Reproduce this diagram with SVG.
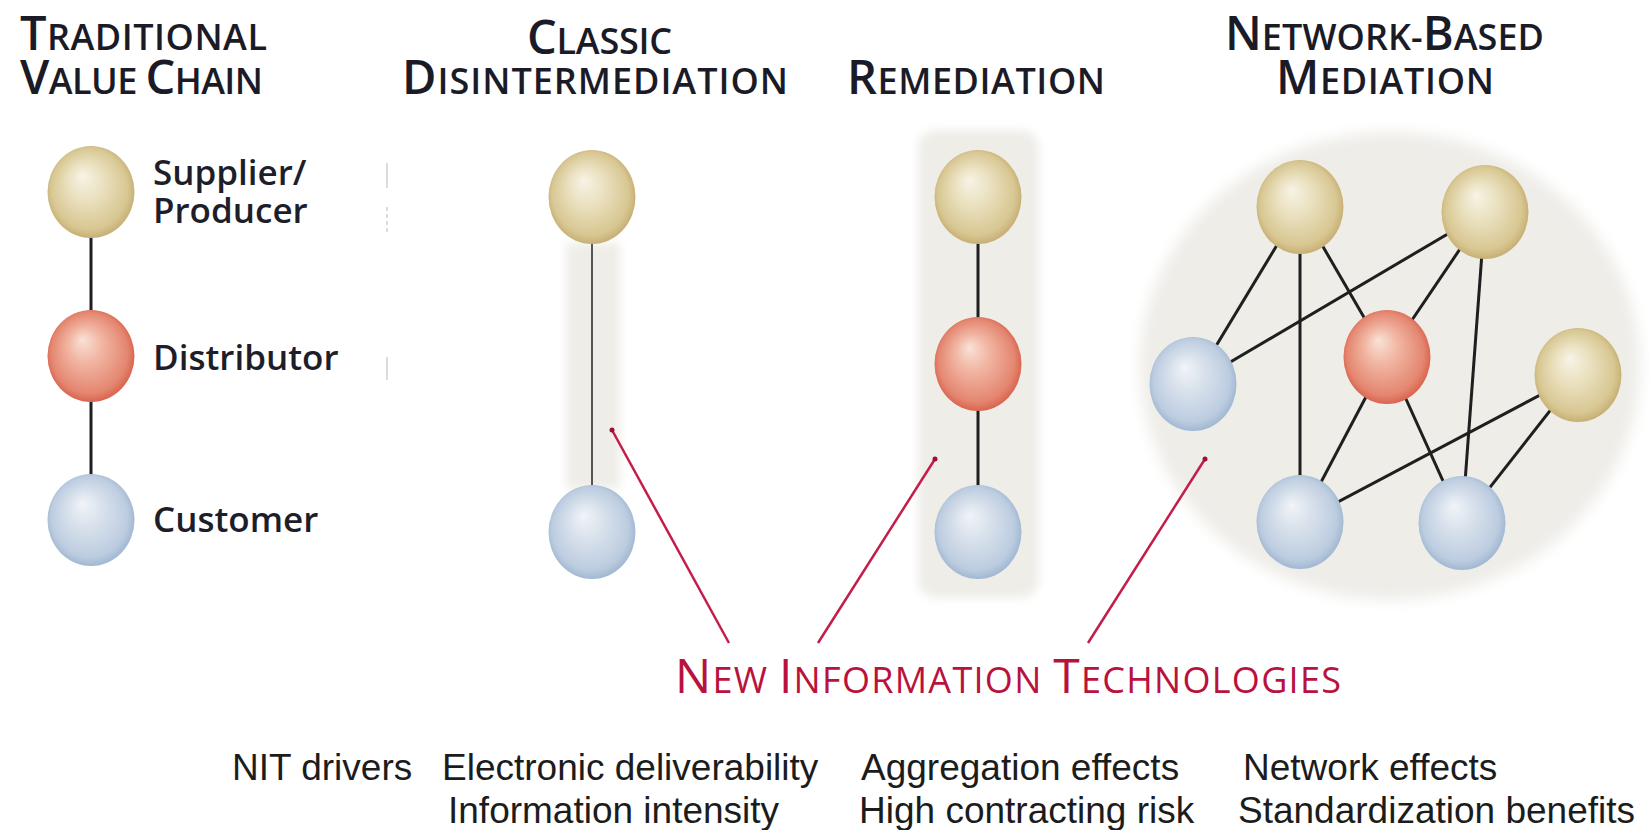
<svg xmlns="http://www.w3.org/2000/svg" width="1650" height="830" viewBox="0 0 1650 830">
  <defs>
    <style>
      .head { font-family: "Open Sans", "Liberation Sans", sans-serif; font-weight: 600; fill: #1b1b27; }
      .big { font-size: 47px; }
      .sc { font-size: 36px; }
      .label { font-family: "Open Sans", "Liberation Sans", sans-serif; font-weight: 600; font-size: 35px; fill: #1e1e2a; }
      .nit { font-family: "Open Sans", "Liberation Sans", sans-serif; font-weight: 400; fill: #b8123d; }
      .nit .big { font-size: 48px; }
      .nit .sc { font-size: 36px; }
      .driver { font-family: "Liberation Sans", Arial, sans-serif; font-size: 37px; fill: #1c1c1c; }
      .link { stroke: #1f1f1f; stroke-width: 3; }
      .link-light { stroke: #555; stroke-width: 2; }
      .pointer { stroke: #c41d4a; stroke-width: 2.5; fill: none; }
      .tip { fill: #9e1030; }
      .halo { fill: #eeede8; }
      .mark { stroke: #dcdcdc; stroke-width: 2; }
    </style>
    <radialGradient id="gYellow" cx="0.5" cy="0.5" r="0.55" fx="0.4" fy="0.32">
      <stop offset="0" stop-color="#f7f3e6"/>
      <stop offset="0.35" stop-color="#ebe2c2"/>
      <stop offset="0.8" stop-color="#d8c792"/>
      <stop offset="1" stop-color="#bea366"/>
    </radialGradient>
    <radialGradient id="gRed" cx="0.5" cy="0.5" r="0.55" fx="0.4" fy="0.32">
      <stop offset="0" stop-color="#f9e2d8"/>
      <stop offset="0.35" stop-color="#f1b6a3"/>
      <stop offset="0.8" stop-color="#e48670"/>
      <stop offset="1" stop-color="#d4533e"/>
    </radialGradient>
    <radialGradient id="gBlue" cx="0.5" cy="0.5" r="0.55" fx="0.4" fy="0.32">
      <stop offset="0" stop-color="#f1f4f8"/>
      <stop offset="0.35" stop-color="#d9e2ec"/>
      <stop offset="0.8" stop-color="#bccce0"/>
      <stop offset="1" stop-color="#93aeca"/>
    </radialGradient>
    <filter id="soft" x="-20%" y="-20%" width="140%" height="140%">
      <feGaussianBlur stdDeviation="7"/>
    </filter>
    <filter id="softer" x="-30%" y="-10%" width="160%" height="120%">
      <feGaussianBlur stdDeviation="5"/>
    </filter>
  </defs>

  <rect width="1650" height="830" fill="#ffffff"/>

  <!-- column headings: capital letters large, the rest as small capitals -->
  <g id="headings">
    <text class="head"><tspan x="20" y="50" textLength="247" lengthAdjust="spacing"><tspan class="big">T</tspan><tspan class="sc">RADITIONAL</tspan></tspan><tspan x="20" y="94" textLength="243" lengthAdjust="spacing"><tspan class="big">V</tspan><tspan class="sc">ALUE </tspan><tspan class="big">C</tspan><tspan class="sc">HAIN</tspan></tspan></text>
    <text class="head"><tspan x="527" y="54" textLength="145" lengthAdjust="spacing"><tspan class="big">C</tspan><tspan class="sc">LASSIC</tspan></tspan><tspan x="402" y="94" textLength="386" lengthAdjust="spacing"><tspan class="big">D</tspan><tspan class="sc">ISINTERMEDIATION</tspan></tspan></text>
    <text class="head" x="847" y="94" textLength="258" lengthAdjust="spacing"><tspan class="big">R</tspan><tspan class="sc">EMEDIATION</tspan></text>
    <text class="head"><tspan x="1225" y="50" textLength="319" lengthAdjust="spacing"><tspan class="big">N</tspan><tspan class="sc">ETWORK-</tspan><tspan class="big">B</tspan><tspan class="sc">ASED</tspan></tspan><tspan x="1276" y="94" textLength="218" lengthAdjust="spacing"><tspan class="big">M</tspan><tspan class="sc">EDIATION</tspan></tspan></text>
  </g>

  <!-- soft background shapes -->
  <g id="backdrops">
    <rect class="halo" x="566" y="243" width="54" height="246" filter="url(#softer)"/>
    <rect class="halo" x="918" y="130" width="121" height="468" rx="18" filter="url(#softer)"/>
    <ellipse class="halo" cx="1390" cy="366" rx="250" ry="234" filter="url(#soft)"/>
  </g>

  <!-- faint margin ticks -->
  <g id="ticks">
    <line class="mark" x1="387" y1="163" x2="387" y2="188"/>
    <line class="mark" x1="387" y1="207" x2="387" y2="233" stroke-dasharray="4 3"/>
    <line class="mark" x1="387" y1="357" x2="387" y2="380"/>
  </g>

  <!-- connectors -->
  <g id="connectors">
    <line class="link" x1="91" y1="192" x2="91" y2="356"/>
    <line class="link" x1="91" y1="356" x2="91" y2="520"/>
    <line class="link-light" x1="592" y1="197" x2="592" y2="532"/>
    <line class="link" x1="978" y1="197" x2="978" y2="364"/>
    <line class="link" x1="978" y1="364" x2="978" y2="532"/>
    <line class="link" x1="1300" y1="207" x2="1193" y2="384"/>
    <line class="link" x1="1300" y1="207" x2="1300" y2="522"/>
    <line class="link" x1="1300" y1="207" x2="1387" y2="357"/>
    <line class="link" x1="1485" y1="212" x2="1193" y2="384"/>
    <line class="link" x1="1485" y1="212" x2="1387" y2="357"/>
    <line class="link" x1="1485" y1="212" x2="1462" y2="523"/>
    <line class="link" x1="1387" y1="357" x2="1300" y2="522"/>
    <line class="link" x1="1387" y1="357" x2="1462" y2="523"/>
    <line class="link" x1="1578" y1="375" x2="1300" y2="522"/>
    <line class="link" x1="1578" y1="375" x2="1462" y2="523"/>
  </g>

  <!-- traditional value chain -->
  <g id="tvc-supplier"><ellipse cx="91" cy="192" rx="43.5" ry="46" fill="url(#gYellow)"/></g>
  <g id="tvc-distributor"><ellipse cx="91" cy="356" rx="43.5" ry="46" fill="url(#gRed)"/></g>
  <g id="tvc-customer"><ellipse cx="91" cy="520" rx="43.5" ry="46" fill="url(#gBlue)"/></g>
  <g id="tvc-labels">
    <text class="label"><tspan x="153" y="185">Supplier/</tspan><tspan x="153" y="223">Producer</tspan></text>
    <text class="label" x="153" y="370">Distributor</text>
    <text class="label" x="153" y="532">Customer</text>
  </g>

  <!-- classic disintermediation -->
  <g id="cd-supplier"><ellipse cx="592" cy="197" rx="43.5" ry="47" fill="url(#gYellow)"/></g>
  <g id="cd-customer"><ellipse cx="592" cy="532" rx="43.5" ry="47" fill="url(#gBlue)"/></g>

  <!-- remediation -->
  <g id="rm-supplier"><ellipse cx="978" cy="197" rx="43.5" ry="47" fill="url(#gYellow)"/></g>
  <g id="rm-distributor"><ellipse cx="978" cy="364" rx="43.5" ry="47" fill="url(#gRed)"/></g>
  <g id="rm-customer"><ellipse cx="978" cy="532" rx="43.5" ry="47" fill="url(#gBlue)"/></g>

  <!-- network-based mediation -->
  <g id="nb-supplier-a"><ellipse cx="1300" cy="207" rx="43.5" ry="47" fill="url(#gYellow)"/></g>
  <g id="nb-supplier-b"><ellipse cx="1485" cy="212" rx="43.5" ry="47" fill="url(#gYellow)"/></g>
  <g id="nb-supplier-c"><ellipse cx="1578" cy="375" rx="43.5" ry="47" fill="url(#gYellow)"/></g>
  <g id="nb-distributor"><ellipse cx="1387" cy="357" rx="43.5" ry="47" fill="url(#gRed)"/></g>
  <g id="nb-customer-a"><ellipse cx="1193" cy="384" rx="43.5" ry="47" fill="url(#gBlue)"/></g>
  <g id="nb-customer-b"><ellipse cx="1300" cy="522" rx="43.5" ry="47" fill="url(#gBlue)"/></g>
  <g id="nb-customer-c"><ellipse cx="1462" cy="523" rx="43.5" ry="47" fill="url(#gBlue)"/></g>

  <!-- pointers from the NIT caption -->
  <g id="pointers">
    <line class="pointer" x1="729" y1="643" x2="612" y2="430"/>
    <line class="pointer" x1="818" y1="643" x2="935" y2="459"/>
    <line class="pointer" x1="1088" y1="643" x2="1205" y2="459"/>
    <circle class="tip" cx="612" cy="430" r="2.5"/>
    <circle class="tip" cx="935" cy="459" r="2.5"/>
    <circle class="tip" cx="1205" cy="459" r="2.5"/>
  </g>

  <g id="nit-caption">
    <text class="nit" x="675" y="693" textLength="666" lengthAdjust="spacing"><tspan class="big">N</tspan><tspan class="sc">EW </tspan><tspan class="big">I</tspan><tspan class="sc">NFORMATION </tspan><tspan class="big">T</tspan><tspan class="sc">ECHNOLOGIES</tspan></text>
  </g>

  <!-- driver list -->
  <g id="drivers">
    <text class="driver" x="232" y="780">NIT drivers</text>
    <text class="driver" x="442" y="780">Electronic deliverability</text>
    <text class="driver" x="861" y="780">Aggregation effects</text>
    <text class="driver" x="1243" y="780">Network effects</text>
    <text class="driver" x="448" y="823">Information intensity</text>
    <text class="driver" x="859" y="823">High contracting risk</text>
    <text class="driver" x="1238" y="823">Standardization benefits</text>
  </g>
</svg>
